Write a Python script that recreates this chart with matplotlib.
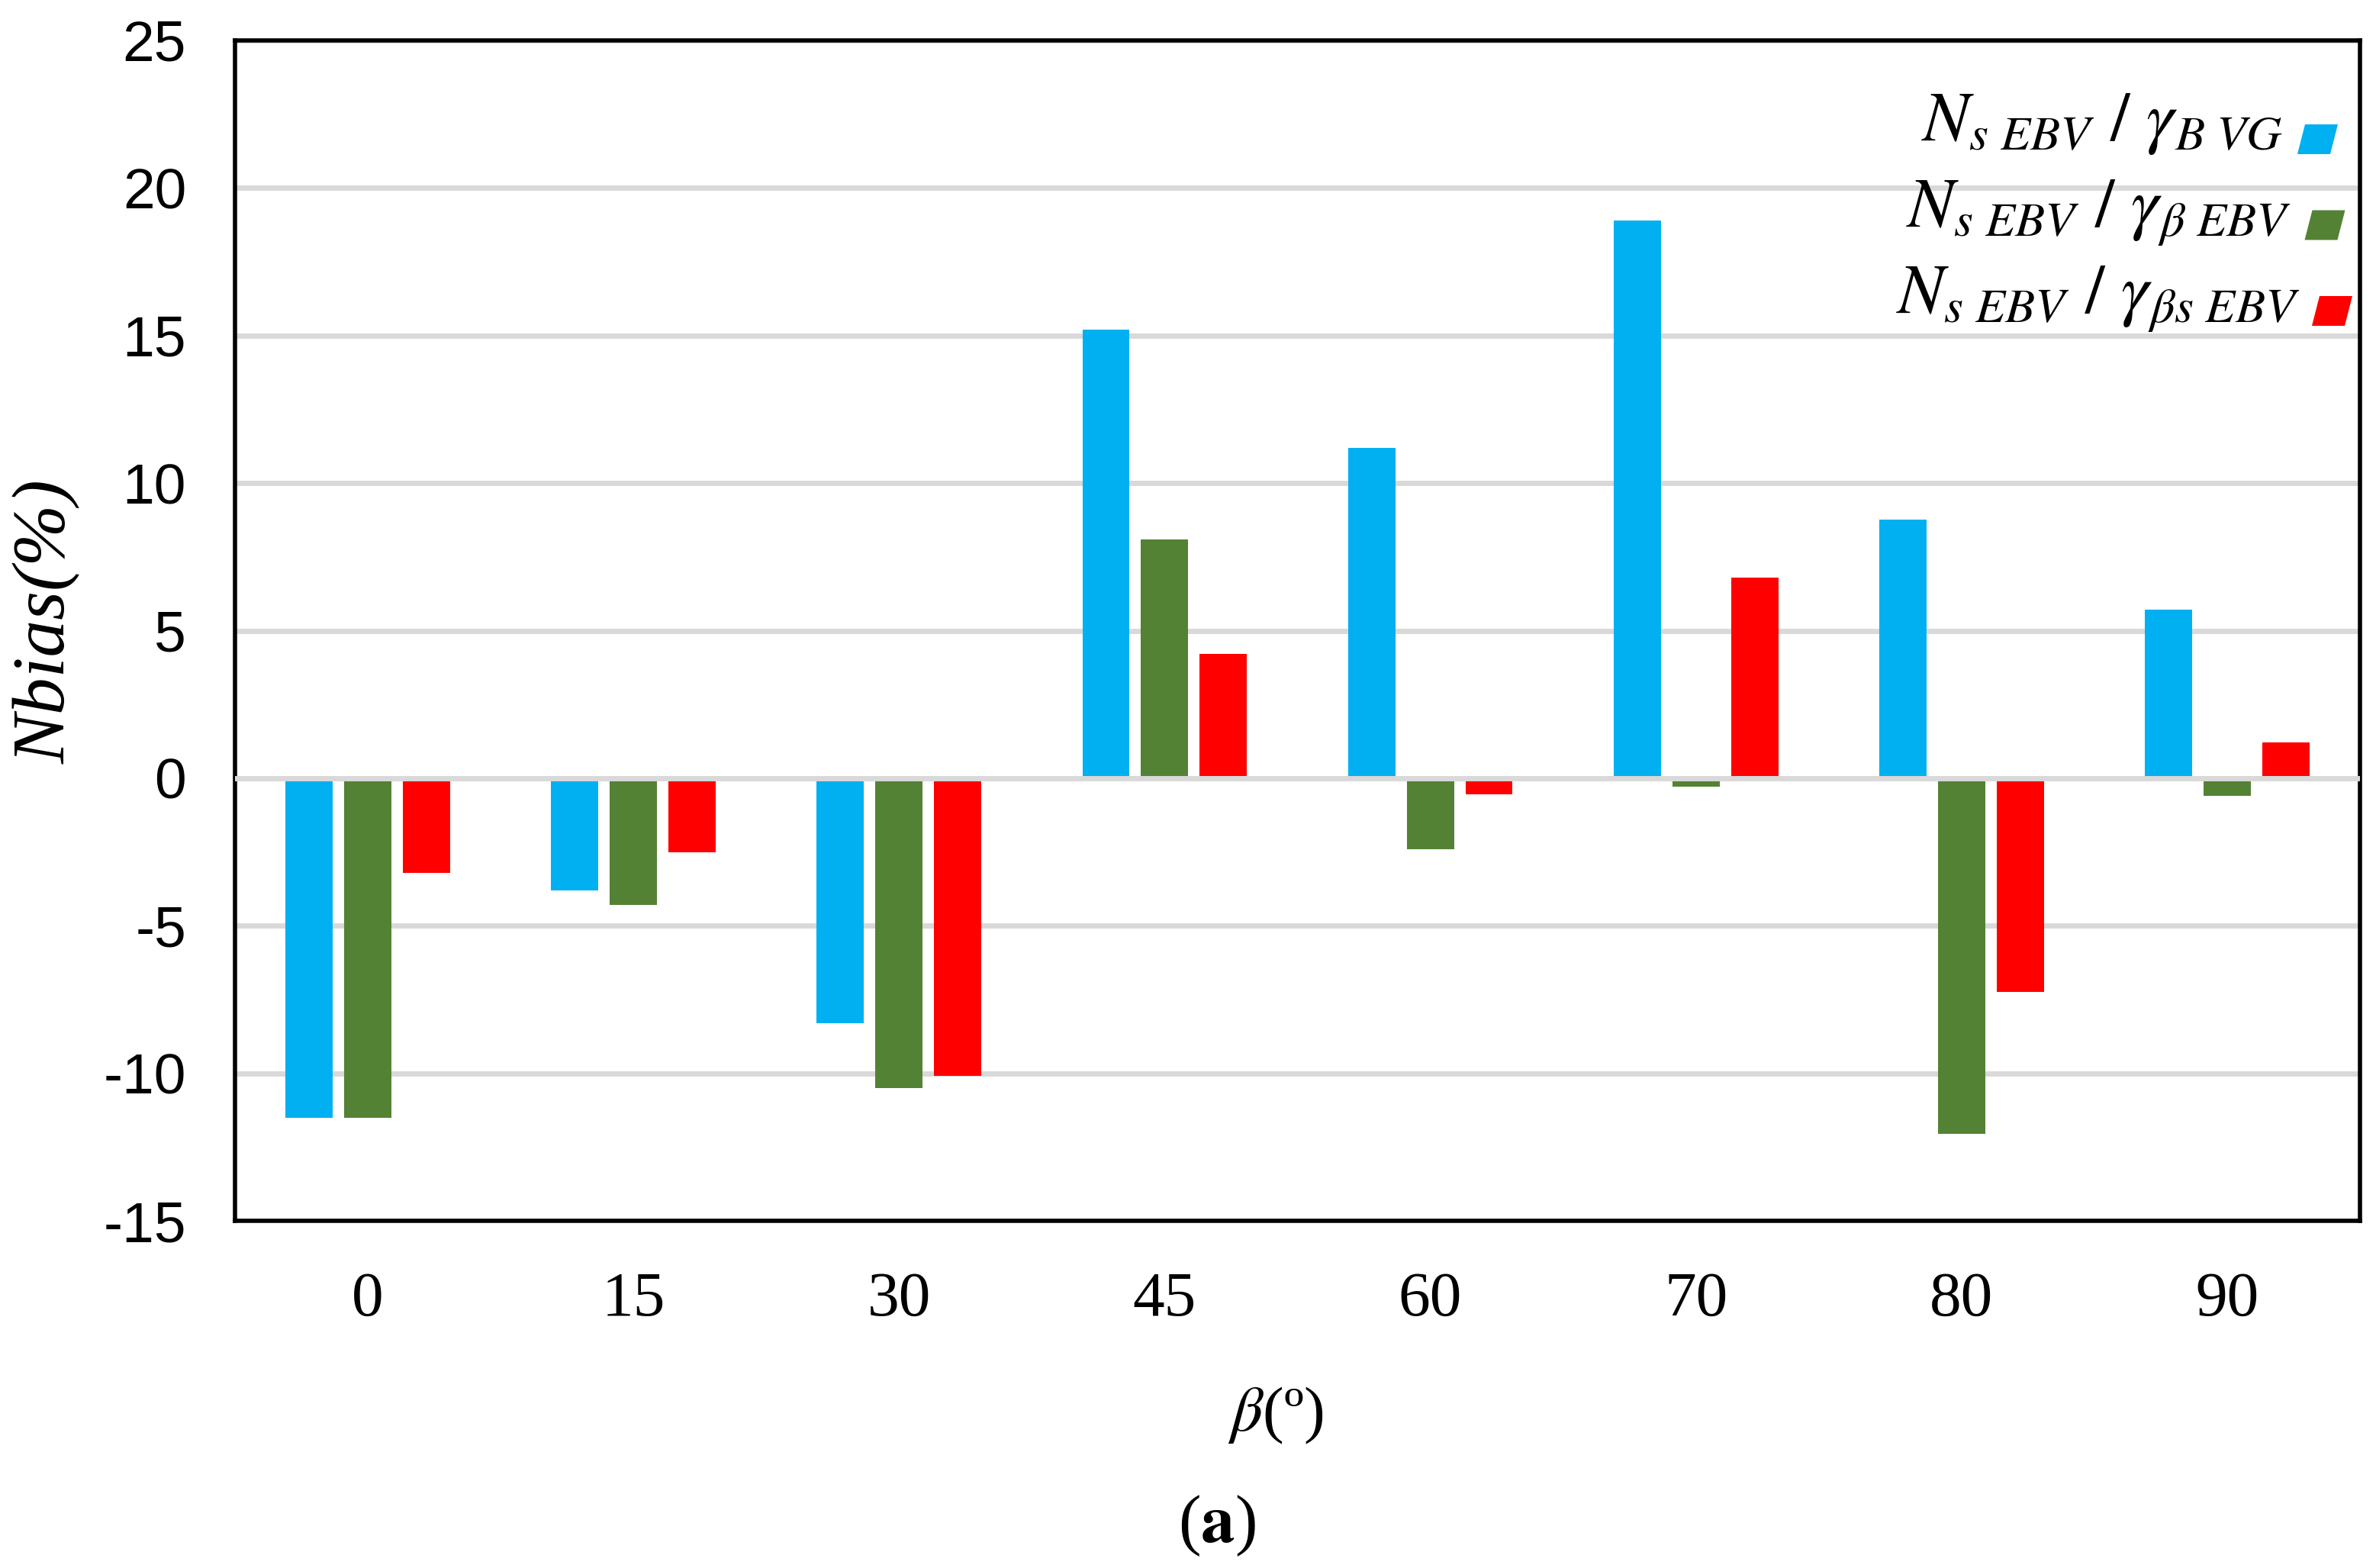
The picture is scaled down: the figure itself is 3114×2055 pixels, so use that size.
import numpy as np
import matplotlib.pyplot as plt
from matplotlib.patches import Polygon

# data
angles = ['0', '15', '30', '45', '60', '70', '80', '90']
bias_vg = [-11.5, -3.8, -8.3, 15.2, 11.2, 18.9, 8.75, 5.7]
bias_beta = [-11.5, -4.3, -10.5, 8.1, -2.4, -0.3, -12.05, -0.6]
bias_beta_s = [-3.2, -2.5, -10.1, 4.2, -0.55, 6.8, -7.25, 1.2]

series = [bias_vg, bias_beta, bias_beta_s]
labels = [r'$N_{s\ EBV}\ /\ \gamma_{B\ VG}$',
          r'$N_{s\ EBV}\ /\ \gamma_{\beta\ EBV}$',
          r'$N_{s\ EBV}\ /\ \gamma_{\beta s\ EBV}$']
colors = ['#00B0F0', '#548235', '#FF0000']

plt.rcParams['mathtext.fontset'] = 'stix'
plt.rcParams['axes.unicode_minus'] = False

W, H = 3114, 2055
DPI = 200


def fx(px):
    return px / W


def fy(py):
    return 1 - py / H


fig = plt.figure(figsize=(W / DPI, H / DPI), dpi=DPI)
ax = fig.add_axes([fx(308), fy(1600), (3093 - 308) / W, (1600 - 53) / H])

x = np.arange(len(angles))
width = 0.178
step = 0.221
for i, (vals, c) in enumerate(zip(series, colors)):
    ax.bar(x + (i - 1) * step, vals, width, color=c, zorder=2)

ax.axhline(0, color='#D9D9D9', lw=2.5, zorder=3)

ax.set_xlim(-0.5, len(angles) - 0.5)
ax.set_ylim(-15, 25)
ax.set_yticks(range(-15, 30, 5))
ax.set_yticklabels([str(v) for v in range(-15, 30, 5)],
                   fontfamily='Liberation Sans', fontsize=27)
ax.set_xticks(x)
ax.set_xticklabels(angles, fontfamily='Liberation Serif', fontsize=30)
ax.tick_params(axis='x', length=0, pad=24)
ax.tick_params(axis='y', length=0, pad=23)

ax.yaxis.grid(True, color='#D9D9D9', lw=2.5)
ax.set_axisbelow(True)
for s in ax.spines.values():
    s.set_linewidth(2)
    s.set_color('black')

# axis titles and panel label
fig.text(fx(62), fy(815), 'Nbias(%)', rotation=90, ha='center', va='center',
         fontfamily='Liberation Serif', style='italic', fontsize=35)
fig.text(fx(1672), fy(1855), r'$\beta$(º)', ha='center', va='center',
         fontfamily='Liberation Serif', fontsize=30)
fig.text(fx(1595), fy(2000), r'($\mathbf{a}$)', ha='center', va='center',
         fontfamily='Liberation Serif', fontsize=32)

# legend: right-aligned labels with slanted colour keys
for i, (lab, c) in enumerate(zip(labels, colors)):
    base = 184 + 113 * i
    fig.text(fx(2992 + 11 * i), fy(base), lab, ha='right', va='baseline',
             fontsize=33)
    L = 3011 + 9.5 * i
    T = 163 + 112.5 * i
    B = T + 39
    pts = [(fx(L), fy(B)), (fx(L + 43), fy(B)), (fx(L + 53), fy(T)), (fx(L + 10), fy(T))]
    fig.patches.append(Polygon(pts, closed=True, facecolor=c, edgecolor='none',
                               transform=fig.transFigure, figure=fig))

fig.savefig('out.png', dpi=DPI, facecolor='white')
